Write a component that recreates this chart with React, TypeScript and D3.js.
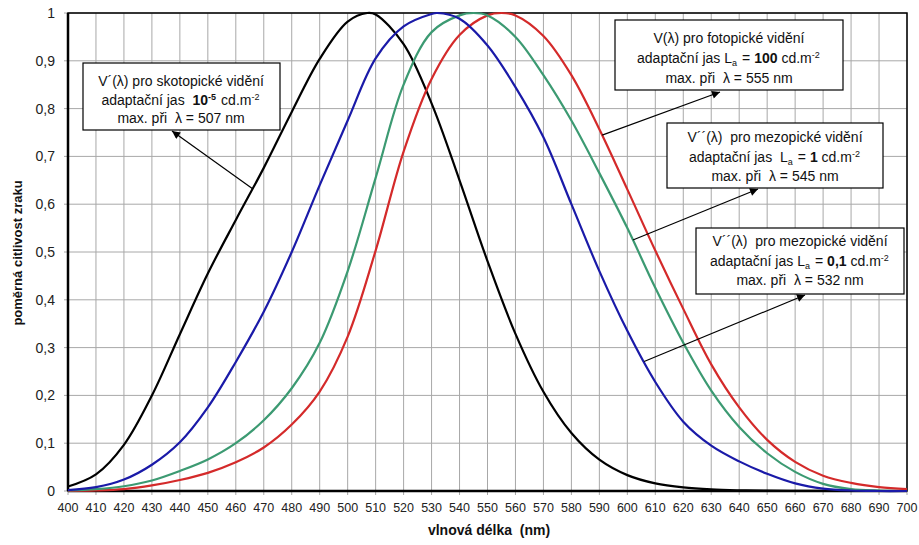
import React from "react";
import * as d3 from "d3";

const wavelengths = [400, 410, 420, 430, 440, 450, 460, 470, 480, 490, 500, 510, 520, 530, 540, 550, 560, 570, 580, 590, 600, 610, 620, 630, 640, 650, 660, 670, 680, 690, 700];

const scotopic = [0.0093, 0.0348, 0.0966, 0.1998, 0.3281, 0.455, 0.567, 0.676, 0.793, 0.904, 0.982, 0.997, 0.935, 0.811, 0.65, 0.481, 0.3288, 0.2076, 0.1212, 0.0655, 0.0332, 0.0159, 0.0074, 0.0033, 0.0015, 0.0007, 0.0003, 0.0001, 0.0001, 0, 0];
const photopic = [0.0004, 0.0012, 0.004, 0.0116, 0.023, 0.038, 0.06, 0.091, 0.139, 0.208, 0.323, 0.503, 0.71, 0.862, 0.954, 0.995, 0.995, 0.952, 0.87, 0.757, 0.631, 0.503, 0.381, 0.265, 0.175, 0.107, 0.061, 0.032, 0.017, 0.0082, 0.0041];
const mesopic1 = [0.001, 0.004, 0.01, 0.022, 0.042, 0.066, 0.1, 0.148, 0.215, 0.31, 0.46, 0.655, 0.85, 0.96, 0.995, 0.995, 0.95, 0.87, 0.775, 0.665, 0.55, 0.425, 0.31, 0.21, 0.134, 0.079, 0.04, 0.015, 0.004, 0.001, 0];
const mesopic01 = [0.002, 0.008, 0.024, 0.055, 0.102, 0.175, 0.27, 0.375, 0.5, 0.64, 0.775, 0.905, 0.972, 0.998, 0.988, 0.932, 0.845, 0.74, 0.6, 0.46, 0.335, 0.228, 0.145, 0.095, 0.062, 0.036, 0.016, 0.005, 0.001, 0, 0];

const peakWl = [507, 555, 545, 532];
const seriesColors = ["#000000", "#d42a2a", "#3c9a72", "#1a1aa8"];

const xTicks = wavelengths;
const yTicks = [0, 0.1, 0.2, 0.3, 0.4, 0.5, 0.6, 0.7, 0.8, 0.9, 1];

const FONT = "'Liberation Sans', Arial, sans-serif";

function withPeak(vals: number[], peak: number): [number, number][] {
  const pts: [number, number][] = wavelengths.map((w, i) => [w, vals[i]]);
  if (!wavelengths.includes(peak)) pts.push([peak, 1]);
  else pts[wavelengths.indexOf(peak)][1] = 1;
  pts.sort((a, b) => a[0] - b[0]);
  return pts;
}

function interp(pts: [number, number][], w: number) {
  for (let i = 0; i < pts.length - 1; i++) {
    if (w >= pts[i][0] && w <= pts[i + 1][0]) {
      const t = (w - pts[i][0]) / (pts[i + 1][0] - pts[i][0]);
      return pts[i][1] + t * (pts[i + 1][1] - pts[i][1]);
    }
  }
  return 0;
}

export default function App() {
  const x = d3.scaleLinear().domain([400, 700]).range([68, 907]);
  const y = d3.scaleLinear().domain([0, 1]).range([491, 13]);

  const all = [scotopic, photopic, mesopic1, mesopic01].map((v, i) => withPeak(v, peakWl[i]));
  const line = d3
    .line<[number, number]>()
    .x((d) => x(d[0]))
    .y((d) => Math.min(y(0), y(d[1])))
    .curve(d3.curveCatmullRom.alpha(0.5));

  const anchors = [
    { s: 0, w: 466, tip: [172, 131] },
    { s: 1, w: 591, tip: [720, 92] },
    { s: 2, w: 602, tip: [758, 189] },
    { s: 3, w: 606, tip: [805, 295] },
  ];

  const sup = (t: string, bold = false) => (
    <>
      <tspan dy={-5} fontSize={9} fontWeight={bold ? "bold" : "normal"}>{t}</tspan>
      <tspan dy={5}>{"\u200A"}</tspan>
    </>
  );
  const sub = (t: string) => (
    <>
      <tspan dy={3} fontSize={9}>{t}</tspan>
      <tspan dy={-3}>{"\u200A"}</tspan>
    </>
  );

  const boxes = [
    { x: 83, y: 63, w: 197, h: 67, cx: 181, base: 86, gap: 18.5, lines: [
      <>V´(λ) pro skotopické vidění</>,
      <>adaptační jas  <tspan fontWeight="bold">10</tspan>{sup("-5", true)} cd.m{sup("-2")}</>,
      <>max. při  λ = 507 nm</>,
    ] },
    { x: 615, y: 20, w: 228, h: 70, cx: 729, base: 43, gap: 20, lines: [
      <>V(λ) pro fotopické vidění</>,
      <>adaptační jas L{sub("a")} = <tspan fontWeight="bold">100</tspan> cd.m{sup("-2")}</>,
      <>max. při  λ = 555 nm</>,
    ] },
    { x: 667, y: 123, w: 216, h: 65, cx: 775, base: 142, gap: 19.5, lines: [
      <>V´´(λ)  pro mezopické vidění</>,
      <>adaptační jas  L{sub("a")} = <tspan fontWeight="bold">1</tspan> cd.m{sup("-2")}</>,
      <>max. při  λ = 545 nm</>,
    ] },
    { x: 696, y: 228, w: 208, h: 66, cx: 800, base: 246, gap: 19.5, lines: [
      <>V´´(λ)  pro mezopické vidění</>,
      <>adaptační jas L{sub("a")} = <tspan fontWeight="bold">0,1</tspan> cd.m{sup("-2")}</>,
      <>max. při  λ = 532 nm</>,
    ] },
  ];

  return (
    <>
      <style>{`body{margin:0} svg text{white-space:pre}`}</style>
      <svg width={919} height={545} style={{ display: "block", background: "#fff" }} fontFamily={FONT}>
        <defs>
          <marker id="arr" viewBox="0 0 10 10" refX={10} refY={5} markerWidth={10} markerHeight={8} orient="auto" markerUnits="userSpaceOnUse">
            <path d="M0,0 L10,5 L0,10 z" fill="#000" />
          </marker>
        </defs>
        {xTicks.map((t) => (
          <line key={"gx" + t} x1={x(t)} x2={x(t)} y1={y(1)} y2={y(0) + 4} stroke="#a8a8a8" strokeWidth={1} />
        ))}
        {yTicks.map((t) => (
          <line key={"gy" + t} x1={x(400) - 4} x2={x(700)} y1={y(t)} y2={y(t)} stroke="#a8a8a8" strokeWidth={1} />
        ))}
        <rect x={x(400)} y={y(1)} width={x(700) - x(400)} height={y(0) - y(1)} fill="none" stroke="#000" strokeWidth={1.5} />
        <line x1={x(400)} x2={x(400)} y1={y(1)} y2={y(0)} stroke="#000" strokeWidth={2.5} />
        <line x1={x(400)} x2={x(700)} y1={y(0)} y2={y(0)} stroke="#000" strokeWidth={2.5} />
        {all.map((pts, i) => (
          <path key={"c" + i} d={line(pts) || ""} fill="none" stroke={seriesColors[i]} strokeWidth={2.2} strokeLinejoin="round" />
        ))}
        {xTicks.map((t) => (
          <text key={"xl" + t} x={x(t)} y={512} textAnchor="middle" fontSize={12.5} fill="#222">{t}</text>
        ))}
        {yTicks.map((t) => (
          <text key={"yl" + t} x={55} y={y(t) + 5} textAnchor="end" fontSize={14} fill="#222">{t === 0 || t === 1 ? String(t) : t.toFixed(1).replace(".", ",")}</text>
        ))}
        <text x={489} y={535} textAnchor="middle" fontSize={14} fontWeight="bold" fill="#111">vlnová délka  (nm)</text>
        <text transform={`translate(22,253) rotate(-90)`} textAnchor="middle" fontSize={13} fontWeight="bold" fill="#111">poměrná citlivost zraku</text>
        {anchors.map((a, i) => (
          <line key={"a" + i} x1={x(a.w)} y1={y(interp(all[a.s], a.w))} x2={a.tip[0]} y2={a.tip[1]} stroke="#000" strokeWidth={1.2} markerEnd="url(#arr)" />
        ))}
        {boxes.map((b, i) => (
          <g key={"b" + i}>
            <rect x={b.x} y={b.y} width={b.w} height={b.h} fill="#fff" stroke="#000" strokeWidth={1.2} />
            {b.lines.map((l, j) => (
              <text key={j} x={b.cx} y={b.base + j * b.gap} textAnchor="middle" fontSize={14} fill="#111">{l}</text>
            ))}
          </g>
        ))}
      </svg>
    </>
  );
}
